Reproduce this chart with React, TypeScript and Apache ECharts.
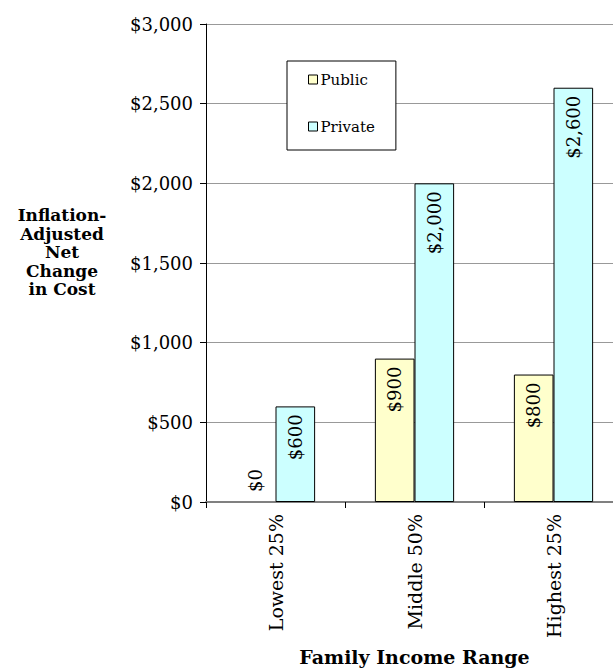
import React, { useEffect, useRef } from "react";
import * as echarts from "echarts";

const categories = ["Lowest 25%", "Middle 50%", "Highest 25%"];
const publicValues = [0, 900, 800];
const privateValues = [600, 2000, 2600];
const seriesNames = ["Public", "Private"];
const yTicks = { min: 0, max: 3000, interval: 500 };
const xTitle = "Family Income Range";
const yTitle = "Inflation-\nAdjusted\nNet\nChange\nin Cost";

const SERIF = "'DejaVu Serif', 'Liberation Serif', serif";
const fmt = (v: number) => "$" + v.toLocaleString("en-US");

export default function App() {
  const ref = useRef<HTMLDivElement>(null);
  useEffect(() => {
    if (!ref.current) return;
    const chart = echarts.init(ref.current, undefined, { renderer: "svg" });
    const labelBase = {
      show: true,
      position: "insideTop",
      rotate: 90,
      align: "right",
      verticalAlign: "middle",
      distance: 8,
      color: "#000",
      fontFamily: SERIF,
      fontSize: 18,
      formatter: (p: any) => fmt(p.value),
    };
    const mkData = (vals: number[]) =>
      vals.map((v) =>
        v === 0
          ? {
              value: v,
              itemStyle: { borderWidth: 0 },
              label: { position: "top", align: "left", distance: 10 },
            }
          : { value: v }
      );
    chart.setOption({
      animation: false,
      backgroundColor: "#fff",
      grid: { left: 206, top: 24, right: -10, bottom: 170, outerBoundsMode: "none", containLabel: false },
      legend: {
        orient: "vertical",
        left: 287,
        top: 61,
        padding: [11, 21, 16, 21],
        itemGap: 32,
        itemWidth: 9,
        itemHeight: 9,
        itemStyle: { borderColor: "#000", borderWidth: 1 },
        backgroundColor: "#fff",
        borderColor: "#000",
        borderWidth: 1,
        icon: "rect",
        textStyle: { fontFamily: SERIF, fontSize: 15, color: "#000", padding: [0, 0, 0, -2] },
        data: seriesNames,
      },
      xAxis: {
        type: "category",
        data: categories,
        name: xTitle,
        nameLocation: "middle",
        nameGap: 145,
        nameTextStyle: { fontFamily: SERIF, fontSize: 19, fontWeight: "bold", color: "#000", verticalAlign: "top" },
        axisLine: { lineStyle: { color: "#808080", width: 2 } },
        axisTick: { show: true, length: 6, lineStyle: { color: "#000" }, alignWithLabel: false, interval: 0 },
        axisLabel: { rotate: 90, margin: 12, fontFamily: SERIF, fontSize: 19, color: "#000", interval: 0 },
      },
      yAxis: {
        type: "value",
        min: yTicks.min,
        max: yTicks.max,
        interval: yTicks.interval,
        axisLine: { show: true, lineStyle: { color: "#000", width: 1 } },
        axisTick: { show: true, length: 6, lineStyle: { color: "#000" } },
        splitLine: { show: true, lineStyle: { color: "#999", width: 1 } },
        axisLabel: { margin: 13, fontFamily: SERIF, fontSize: 18, color: "#000", formatter: fmt },
      },
      graphic: [
        {
          type: "text",
          x: 62,
          y: 252,
          style: {
            text: yTitle,
            textAlign: "center",
            textVerticalAlign: "middle",
            fontFamily: SERIF,
            fontSize: 17,
            fontWeight: "bold",
            fill: "#000",
            lineHeight: 18.5,
          },
        },
      ],
      series: [
        {
          name: seriesNames[0],
          type: "bar",
          data: mkData(publicValues),
          barGap: "0%",
          barCategoryGap: "43%",
          itemStyle: { color: "#FFFFCC", borderColor: "#000", borderWidth: 1 },
          label: labelBase,
        },
        {
          name: seriesNames[1],
          type: "bar",
          data: mkData(privateValues),
          barGap: "0%",
          barCategoryGap: "43%",
          itemStyle: { color: "#CCFFFF", borderColor: "#000", borderWidth: 1 },
          label: labelBase,
        },
      ],
    });
    return () => chart.dispose();
  }, []);
  return (
    <div
      ref={ref}
      style={{ position: "fixed", left: 0, top: 0, width: 613, height: 672 }}
    />
  );
}
